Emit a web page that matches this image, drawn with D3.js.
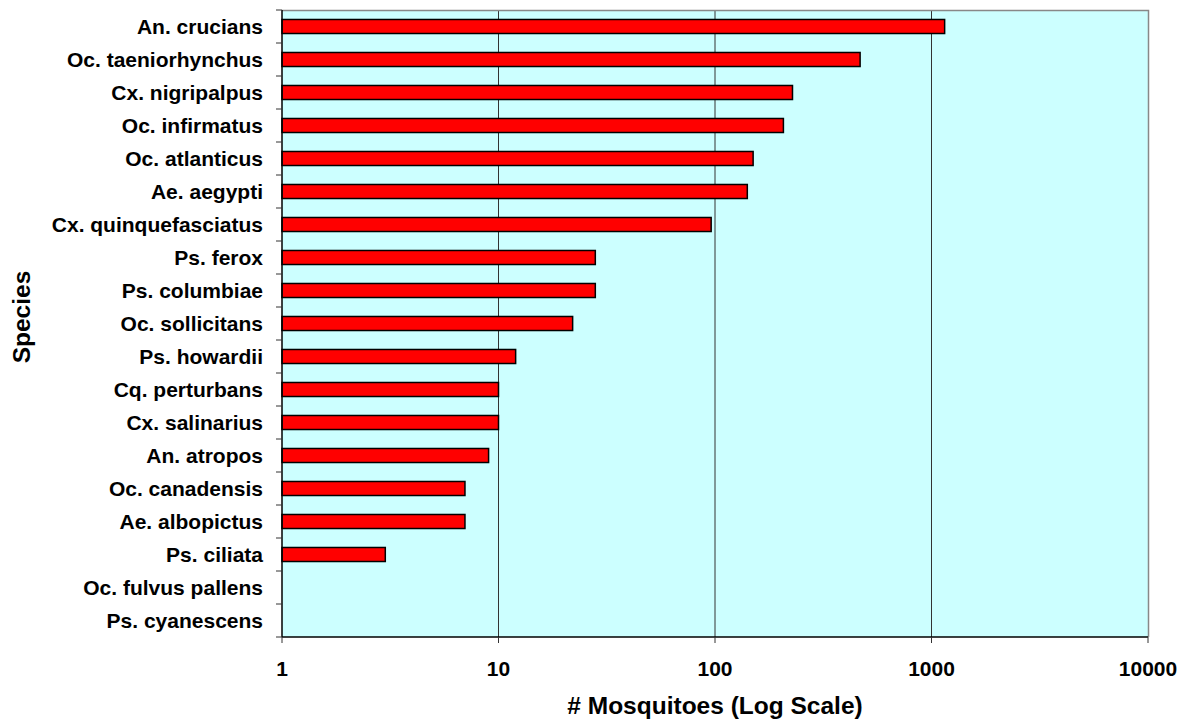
<!DOCTYPE html>
<html><head><meta charset="utf-8">
<script src="https://cdn.jsdelivr.net/npm/d3@7"></script>
<style>body{margin:0;background:#fff}svg{display:block}text{font-family:"Liberation Sans",Arial,sans-serif;font-weight:bold;fill:#000}</style>
</head><body>
<svg id="c" width="1191" height="725"></svg>
<script>
const species = ["An. crucians","Oc. taeniorhynchus","Cx. nigripalpus","Oc. infirmatus","Oc. atlanticus","Ae. aegypti","Cx. quinquefasciatus","Ps. ferox","Ps. columbiae","Oc. sollicitans","Ps. howardii","Cq. perturbans","Cx. salinarius","An. atropos","Oc. canadensis","Ae. albopictus","Ps. ciliata","Oc. fulvus pallens","Ps. cyanescens"];
const counts = [1150,468,228,207,150,141,96,28,28,22,12,10,10,9,7,7,3,0,0];
const tickValues = [1,10,100,1000,10000];
const tickLabels = ["1","10","100","1000","10000"];

const svg = d3.select("#c");
const L = 282, R = 1148, T = 10, B = 637;
const x = d3.scaleLog().domain([1,10000]).range([L,R]);
const y = d3.scaleBand().domain(species).range([T,B]).paddingInner(0.575).paddingOuter(0.2875);
const yb = d3.scaleBand().domain(species).range([T,B]);

svg.append("rect").attr("x",L).attr("y",T).attr("width",R-L).attr("height",B-T).attr("fill","#CCFFFF");
// gridlines
svg.append("g").selectAll("line").data(tickValues.slice(1,-1)).join("line")
  .attr("x1",d=>x(d)).attr("x2",d=>x(d)).attr("y1",T).attr("y2",B)
  .attr("stroke","#333").attr("stroke-width",1);
// border top/right
svg.append("path").attr("d",`M${L},${T+0.5}H${R+0.5}V${B}`).attr("fill","none").attr("stroke","#888").attr("stroke-width",1.5);

// bars
svg.append("g").selectAll("rect").data(species.map((s,i)=>({s,v:counts[i]})).filter(d=>d.v>=1)).join("rect")
  .attr("x",x(1)).attr("y",d=>y(d.s)).attr("width",d=>x(d.v)-x(1)).attr("height",y.bandwidth())
  .attr("fill","#FF0000").attr("stroke","#000").attr("stroke-width",1.5);

// y axis
const ya = svg.append("g").attr("transform",`translate(${L},0)`);
ya.append("line").attr("x1",0).attr("x2",0).attr("y1",T).attr("y2",B).attr("stroke","#000").attr("stroke-width",1.5);
ya.selectAll("line.t").data(species.concat(["__end"])).join("line").attr("class","t")
  .attr("x1",-6).attr("x2",0)
  .attr("y1",(d,i)=>i<species.length? yb(d):B).attr("y2",(d,i)=>i<species.length? yb(d):B)
  .attr("stroke","#333").attr("stroke-width",1);
ya.selectAll("text").data(species).join("text")
  .attr("x",-19).attr("y",d=>yb(d)+yb.bandwidth()/2).attr("dy","0.36em")
  .attr("text-anchor","end").attr("font-size",21).text(d=>d);

// x axis
const xa = svg.append("g").attr("transform",`translate(0,${B})`);
xa.append("line").attr("x1",L).attr("x2",R).attr("stroke","#000").attr("stroke-width",1.5);
xa.selectAll("line.t").data(tickValues).join("line").attr("class","t")
  .attr("x1",d=>x(d)).attr("x2",d=>x(d)).attr("y1",0).attr("y2",6).attr("stroke","#333");
xa.selectAll("text").data(tickValues).join("text")
  .attr("x",d=>x(d)).attr("y",39).attr("text-anchor","middle").attr("font-size",21)
  .text((d,i)=>tickLabels[i]);

svg.append("text").attr("x",(L+R)/2).attr("y",714).attr("text-anchor","middle").attr("font-size",24.5).text("# Mosquitoes (Log Scale)");
svg.append("text").attr("transform",`translate(30,317) rotate(-90)`).attr("text-anchor","middle").attr("font-size",24.5).text("Species");
</script>
</body></html>
